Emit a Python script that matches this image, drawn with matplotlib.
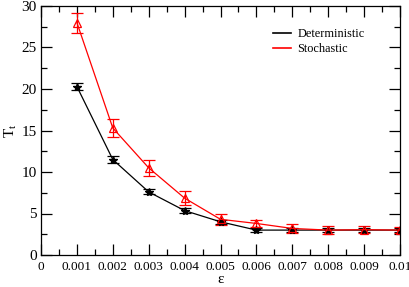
import matplotlib
matplotlib.use("Agg")
import matplotlib.pyplot as plt
from matplotlib.ticker import MultipleLocator, FixedLocator
from matplotlib.lines import Line2D

plt.rcParams['font.family'] = ['Liberation Serif', 'DejaVu Serif']
plt.rcParams['mathtext.fontset'] = 'custom'
plt.rcParams['mathtext.rm'] = 'Liberation Serif'
plt.rcParams['mathtext.it'] = 'Liberation Serif:italic'

eps = [0.001, 0.002, 0.003, 0.004, 0.005, 0.006, 0.007, 0.008, 0.009, 0.010]
det = [20.3, 11.5, 7.6, 5.35, 4.0, 3.0, 3.0, 3.0, 3.0, 3.0]
det_err = [0.45, 0.4, 0.3, 0.3, 0.25, 0.2, 0.2, 0.2, 0.25, 0.2]
sto = [28.0, 15.3, 10.5, 6.85, 4.3, 3.8, 3.2, 3.0, 3.05, 3.0]
sto_err = [1.2, 1.1, 1.0, 0.85, 0.7, 0.45, 0.5, 0.45, 0.4, 0.35]
xticklabels = ['0', '0.001', '0.002', '0.003', '0.004', '0.005', '0.006', '0.007', '0.008', '0.009', '0.01']

fig = plt.figure(figsize=(4.09, 2.87), dpi=100)
ax = fig.add_axes([41/409, 32/287, 359/409, 249/287])

ax.errorbar(eps, det, yerr=det_err, color='black', marker='*', markersize=6,
            lw=0.9, elinewidth=0.9, capsize=4, capthick=0.9, label='Deterministic')
ax.errorbar(eps, sto, yerr=sto_err, color='red', marker='^', markersize=5.5,
            markerfacecolor='none', markeredgewidth=0.9,
            lw=0.9, elinewidth=0.9, capsize=4, capthick=0.9, label='Stochastic')

ax.set_xlim(0, 0.01)
ax.set_ylim(0, 30)
ax.xaxis.set_major_locator(FixedLocator([i*0.001 for i in range(11)]))
ax.set_xticklabels(xticklabels)
ax.xaxis.set_minor_locator(MultipleLocator(0.0005))
ax.yaxis.set_major_locator(MultipleLocator(5))
ax.yaxis.set_minor_locator(MultipleLocator(2.5))
ax.tick_params(which='both', direction='in', top=True, right=True, width=0.9)
ax.tick_params(which='major', length=8)
ax.tick_params(which='minor', length=4.5)
ax.tick_params(axis='x', labelsize=9.5, pad=4)
ax.tick_params(axis='y', labelsize=11, pad=3)
for s in ax.spines.values():
    s.set_linewidth(0.9)

ax.set_xlabel('ε', fontsize=11, labelpad=0)
ax.set_ylabel(r'T$_\mathrm{t}$', fontsize=11, labelpad=2)

labels = ['Deterministic', 'Stochastic']
h = [Line2D([], [], color='black', lw=1.2), Line2D([], [], color='red', lw=1.2)]
ax.legend(h, labels, loc='upper left', bbox_to_anchor=(0.646, 0.91), frameon=False,
          borderpad=0, borderaxespad=0,
          fontsize=8.8, handlelength=1.45, handletextpad=0.55, labelspacing=0.2)

fig.savefig('out.png', dpi=100)
